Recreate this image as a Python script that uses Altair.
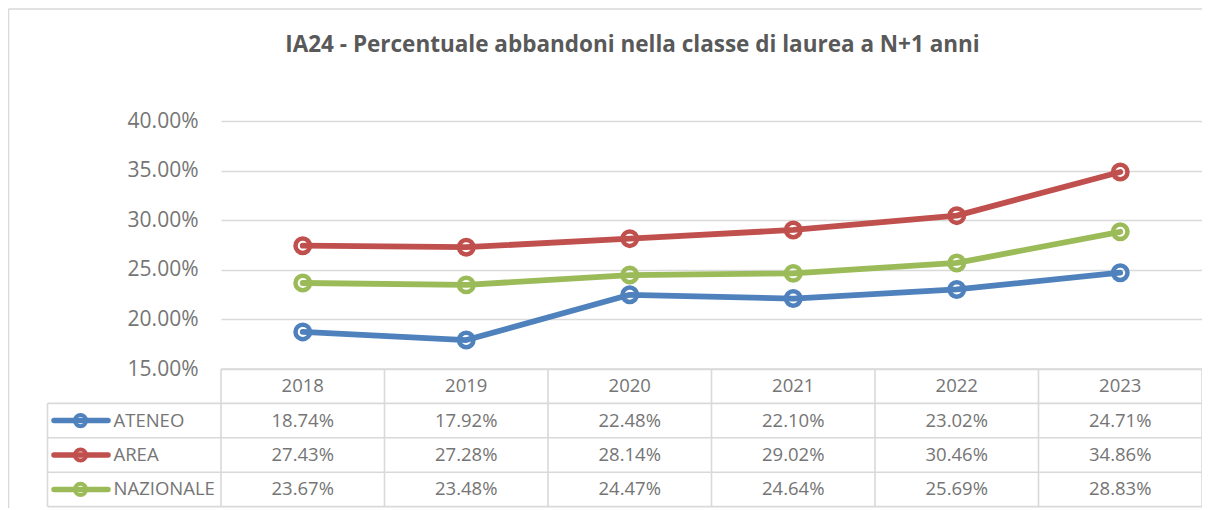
import altair as alt
import pandas as pd

# ---------------- data ----------------
years = ["2018", "2019", "2020", "2021", "2022", "2023"]
series = ["ATENEO", "AREA", "NAZIONALE"]
ateneo = [18.74, 17.92, 22.48, 22.10, 23.02, 24.71]
area = [27.43, 27.28, 28.14, 29.02, 30.46, 34.86]
nazionale = [23.67, 23.48, 24.47, 24.64, 25.69, 28.83]
colors = ["#4F81BD", "#C0504D", "#9BBB59"]
y_ticks = [15, 20, 25, 30, 35, 40]
title_text = "IA24 - Percentuale abbandoni nella classe di laurea a N+1 anni"

values = {"ATENEO": ateneo, "AREA": area, "NAZIONALE": nazionale}
df = pd.DataFrame(
    [{"series": s, "year": y, "value": v / 100} for s in series for y, v in zip(years, values[s])]
)
cells = pd.DataFrame(
    [{"row": "header", "year": y, "label": y} for y in years]
    + [{"row": s, "year": y, "label": f"{v:.2f}%"} for s in series for y, v in zip(years, values[s])]
)
legend_df = pd.DataFrame({"row": series})

# ---------------- layout / style ----------------
W, H = 981, 248
ROW_H = 34.4
T_BOT = H + 4 * ROW_H
LEFT_COL = -173.5
GRID = "#d9d9d9"
TXT = "#757575"
FONT = "Open Sans"

xs = alt.Scale(type="band", domain=years, paddingInner=0, paddingOuter=0)
ys = alt.Scale(domain=[0.15, 0.40], nice=False, zero=False)
ts = alt.Scale(type="band", domain=["header"] + series, range=[H, T_BOT], paddingInner=0, paddingOuter=0)
cs = alt.Scale(domain=series, range=colors)

base = alt.Chart(df)

lines = base.mark_line(strokeWidth=5.8, strokeJoin="round", strokeCap="round").encode(
    x=alt.X("year:N", scale=xs, axis=None, bandPosition=0.5),
    y=alt.Y(
        "value:Q",
        scale=ys,
        axis=alt.Axis(
            values=[t / 100 for t in y_ticks], format=".2%", title=None, ticks=False, domain=False,
            grid=True, gridColor=GRID, gridWidth=1.6, labelFont=FONT, labelFontSize=21,
            labelColor=TXT, labelPadding=23,
        ),
    ),
    color=alt.Color("series:N", scale=cs, legend=None),
)
points = base.mark_point(shape="circle", size=210, strokeWidth=4.5, opacity=1).encode(
    x=alt.X("year:N", scale=xs, axis=None, bandPosition=0.5),
    y=alt.Y("value:Q", scale=ys, axis=None),
    color=alt.Color("series:N", scale=cs, legend=None),
)

table_text = alt.Chart(cells).mark_text(font=FONT, fontSize=18.5, color=TXT, baseline="middle").encode(
    x=alt.X("year:N", scale=xs, axis=None, bandPosition=0.5),
    y=alt.Y(
        "row:N", scale=ts,
        axis=alt.Axis(
            orient="left", title=None, ticks=False, domain=False, grid=False,
            labelExpr="datum.value == 'header' ? '' : datum.value",
            labelAlign="left", labelPadding=108, labelFont=FONT, labelFontSize=18.5,
            labelColor=TXT, labelBaseline="middle",
        ),
    ),
    text="label:N",
)

leg_line = alt.Chart(legend_df).mark_rule(strokeWidth=5.5, strokeCap="round").encode(
    y=alt.Y("row:N", scale=ts, axis=None),
    x=alt.value(-167), x2=alt.value(-113),
    color=alt.Color("row:N", scale=cs, legend=None),
)
leg_pt = alt.Chart(legend_df).mark_point(shape="circle", size=125, strokeWidth=4, opacity=1).encode(
    y=alt.Y("row:N", scale=ts, axis=None),
    x=alt.value(-140.5),
    color=alt.Color("row:N", scale=cs, legend=None),
)

# table borders
hdf1 = pd.DataFrame({"row": ["header"] + series})
h1 = alt.Chart(hdf1).mark_rule(color=GRID, strokeWidth=1.6).encode(
    y=alt.Y("row:N", scale=ts, axis=None, bandPosition=0), x=alt.value(0), x2=alt.value(W)
)
h2 = alt.Chart(legend_df).mark_rule(color=GRID, strokeWidth=1.6).encode(
    y=alt.Y("row:N", scale=ts, axis=None, bandPosition=0), x=alt.value(LEFT_COL), x2=alt.value(0)
)
h3 = alt.Chart(pd.DataFrame({"row": [series[-1]]})).mark_rule(color=GRID, strokeWidth=1.6).encode(
    y=alt.Y("row:N", scale=ts, axis=None, bandPosition=1), x=alt.value(LEFT_COL), x2=alt.value(W)
)
ydf = pd.DataFrame({"year": years})
v1 = alt.Chart(ydf).mark_rule(color=GRID, strokeWidth=1.6).encode(
    x=alt.X("year:N", scale=xs, axis=None, bandPosition=0), y=alt.value(H), y2=alt.value(T_BOT)
)
v2 = alt.Chart(pd.DataFrame({"year": [years[-1]]})).mark_rule(color=GRID, strokeWidth=1.6).encode(
    x=alt.X("year:N", scale=xs, axis=None, bandPosition=1), y=alt.value(H), y2=alt.value(T_BOT)
)
v3 = alt.Chart(pd.DataFrame({"k": [0]})).mark_rule(color=GRID, strokeWidth=1.6).encode(
    x=alt.value(LEFT_COL), y=alt.value(H + ROW_H), y2=alt.value(T_BOT)
)
# outer chart frame
f1 = alt.Chart(pd.DataFrame({"k": [0]})).mark_rule(color=GRID, strokeWidth=1.5).encode(
    x=alt.value(-212.5), y=alt.value(-112), y2=alt.value(T_BOT + 12)
)
f2 = alt.Chart(pd.DataFrame({"k": [0]})).mark_rule(color=GRID, strokeWidth=1.5).encode(
    x=alt.value(-212.5), x2=alt.value(W + 10), y=alt.value(-112)
)

chart = (
    alt.layer(f1, f2, lines, points, h1, h2, h3, v1, v2, v3, table_text, leg_line, leg_pt)
    .resolve_scale(y="independent")
    .properties(
        width=W, height=H,
        padding={"left": 213, "top": 113, "right": 0, "bottom": 139},
        autosize=alt.AutoSizeParams(type="none"),
        title=alt.TitleParams(
            title_text, font=FONT, fontSize=22.5, fontWeight="bold", color="#595959",
            anchor="middle", dx=-79, baseline="alphabetic", offset=-66,
        ),
    )
    .configure_view(stroke=None)
)

chart.save("out.html", embed_options={"renderer": "svg", "actions": False})
